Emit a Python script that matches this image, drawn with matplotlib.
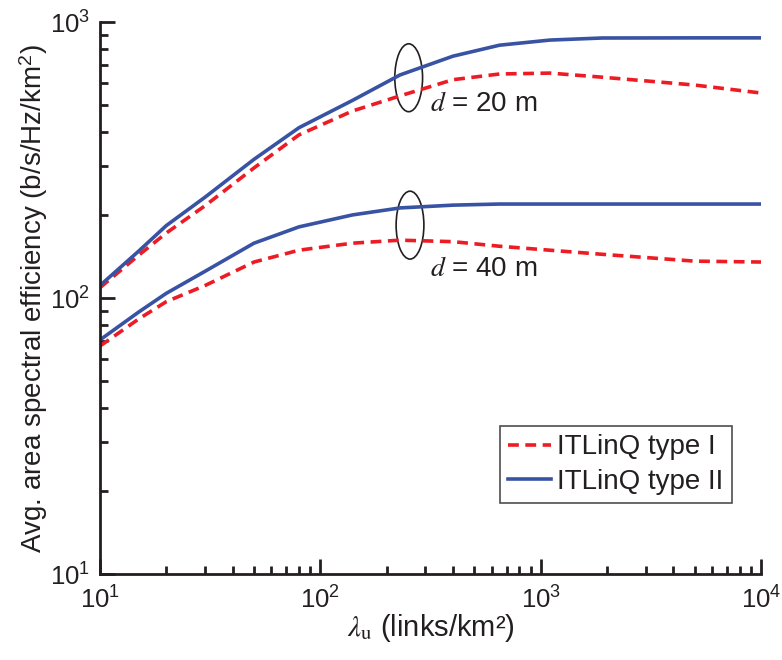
import matplotlib
matplotlib.use("Agg")
import matplotlib.pyplot as plt
from matplotlib.patches import Ellipse

plt.rcParams['font.family'] = ['Liberation Sans', 'DejaVu Sans']
plt.rcParams['mathtext.fontset'] = 'stix'

# Data
x_vals = [10, 15, 20, 30, 50, 80, 140, 230, 400, 650, 1100, 1900, 5000, 10000]
type1_d20 = [109, 143, 172, 216, 296, 390, 476, 540, 618, 648, 653, 631, 591, 553]
type2_d20 = [111, 148, 183, 232, 318, 414, 520, 643, 752, 824, 860, 875, 876, 876]
type1_d40 = [67, 84, 97, 111, 135, 149, 158, 162, 160, 154, 149, 144, 136, 135]
type2_d40 = [70.5, 89, 104, 125, 158, 181, 200, 212, 217, 219, 219, 219, 219, 219]

red = '#ED1C24'
blue = '#3953A4'
ink = '#231F20'

fig = plt.figure(figsize=(7.82, 6.6), dpi=100)
ax = fig.add_axes([100/782, 1 - 574/660, 661/782, 552/660])

lw = 2.6
dash = (3.0, 1.8)
ax.plot(x_vals, type1_d20, color=red, lw=lw, dashes=dash, label='ITLinQ type I')
ax.plot(x_vals, type2_d20, color=blue, lw=lw, label='ITLinQ type II')
ax.plot(x_vals, type1_d40, color=red, lw=lw, dashes=dash)
ax.plot(x_vals, type2_d40, color=blue, lw=lw)

ax.set_xscale('log')
ax.set_yscale('log')
ax.set_xlim(10, 1e4)
ax.set_ylim(10, 1e3)

for s in ['top', 'right']:
    ax.spines[s].set_visible(False)
for s in ['left', 'bottom']:
    ax.spines[s].set_linewidth(2.0)
    ax.spines[s].set_color(ink)

ax.tick_params(which='major', direction='in', length=11, width=2.0, color=ink,
               labelsize=18.5, pad=7, labelcolor=ink)
ax.tick_params(which='minor', direction='in', length=6, width=2.0, color=ink)
ax.tick_params(axis='x', which='major', pad=9)

ax.set_ylabel('Avg. area spectral efficiency (b/s/Hz/km$^\\mathdefault{2}$)', fontsize=20,
              color=ink, labelpad=0)
ax.set_xlabel('$\\lambda_{\\mathrm{u}}$ (links/km²)', fontsize=21, color=ink, labelpad=-1)

# Ellipses marking the curve groups
for cx, cy in [(0.467, 0.899), (0.469, 0.632)]:
    ax.add_patch(Ellipse((cx, cy), 0.042, 0.123, transform=ax.transAxes,
                         fill=False, edgecolor=ink, lw=1.2))

ax.text(0.50, 0.838, '$d$ = 20 m', transform=ax.transAxes, fontsize=20,
        color=ink, va='baseline', ha='left')
ax.text(0.50, 0.539, '$d$ = 40 m', transform=ax.transAxes, fontsize=20,
        color=ink, va='baseline', ha='left')

leg = ax.legend(loc='upper left', bbox_to_anchor=((500 - 100) / 661, 1 - (426 - 22) / 552),
                fontsize=20, frameon=True, fancybox=False, handlelength=1.55,
                handletextpad=0.2, borderpad=0.3, labelspacing=0.3, borderaxespad=0)
leg.get_frame().set_edgecolor(ink)
leg.get_frame().set_linewidth(1.2)
for t in leg.get_texts():
    t.set_color(ink)

fig.savefig('out.png', dpi=100)
